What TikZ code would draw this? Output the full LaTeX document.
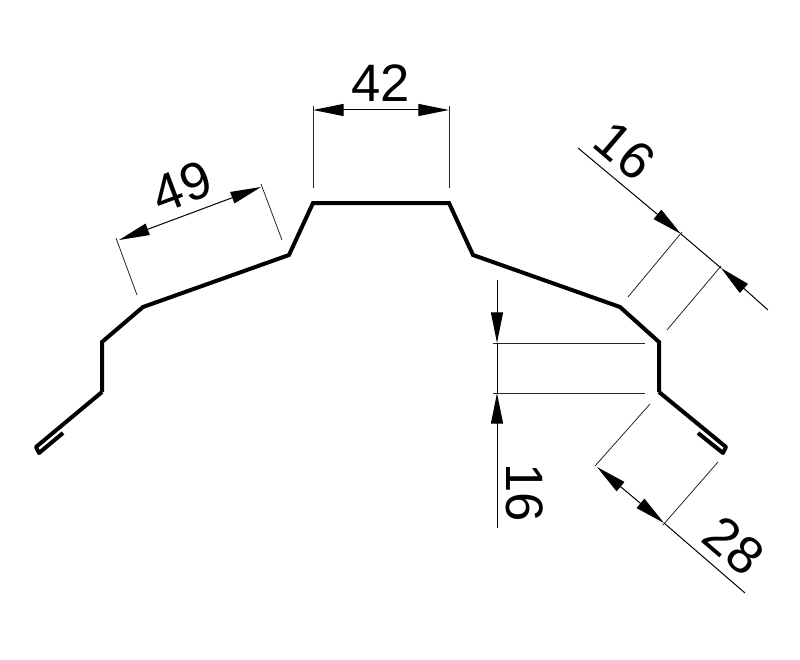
\documentclass[tikz,border=0pt]{standalone}
\usepackage{fontspec}
\setmainfont{Liberation Sans}
\usetikzlibrary{arrows.meta}

\tikzset{every picture/.style={line width=0.75pt}}
\tikzset{
	profile/.style={line width=3pt,line join=miter,line cap=butt},
	hem/.style={line width=3pt,line join=round},
	extline/.style={line width=0.6pt,black!85},
	dimline/.style={line width=0.75pt,>={Triangle[length=23pt,width=9pt]}},
	dimtext/.style={font=\fontsize{39.5}{39.5}\selectfont,inner sep=0pt}
}

\begin{document}
\begin{tikzpicture}[x=0.75pt,y=0.75pt,yscale=-1,xscale=1]
	\useasboundingbox (0,0) rectangle (800,660);

	%Profile
	\draw [profile]  (102,392) -- (102,342) -- (143,307) -- (289,255) -- (313,203) -- (449,203) -- (473,255) -- (620,307) -- (659,342) -- (659,392) ;
	%Hems
	\draw [hem]  (102,392) -- (36,447) -- (39,453) -- (63,433) ;
	\draw [hem]  (659,392) -- (726,447) -- (723,453) -- (698,433) ;

	%Extension lines
	\draw [extline]  (313,106) -- (313,188) ;
	\draw [extline]  (449,106) -- (449,188) ;
	\draw [extline]  (116,238) -- (137,295) ;
	\draw [extline]  (261,184) -- (282,240) ;
	\draw [extline]  (682,232) -- (628,297) ;
	\draw [extline]  (721,266) -- (667,330) ;
	\draw [extline]  (493,343) -- (645,343) ;
	\draw [extline]  (493,393) -- (645,393) ;
	\draw [extline]  (650,404) -- (595,466) ;
	\draw [extline]  (718,462) -- (663,525) ;

	%Dimension lines
	\draw [dimline,<->]  (313,110) -- (449,110) ;
	\draw [dimline,<->]  (119,240) -- (261,187) ;
	\draw [dimline,->]  (578,148) -- (681,234) ;
	\draw [dimline]  (681,234) -- (721,268) ;
	\draw [dimline,<-]  (721,268) -- (768,310) ;
	\draw [dimline,->]  (497,280) -- (497,343) ;
	\draw [dimline]  (497,343) -- (497,393) ;
	\draw [dimline,<-]  (497,393) -- (497,528) ;
	\draw [dimline,<->]  (597,467) -- (664,523) ;
	\draw [dimline]  (664,523) -- (745,593) ;

	% Text Node
	\draw (381,83) node (topwidth) [dimtext]  {42};
	% Text Node
	\draw (182,187) node (slopeleft) [dimtext,rotate=20.5]  {49};
	% Text Node
	\draw (625,151) node (chamfer) [dimtext,rotate=-40.5]  {16};
	% Text Node
	\draw (525,493) node (stepheight) [dimtext,rotate=-90]  {16};
	% Text Node
	\draw (734,546) node (hemlength) [dimtext,rotate=-40.5]  {28};

\end{tikzpicture}
\end{document}
